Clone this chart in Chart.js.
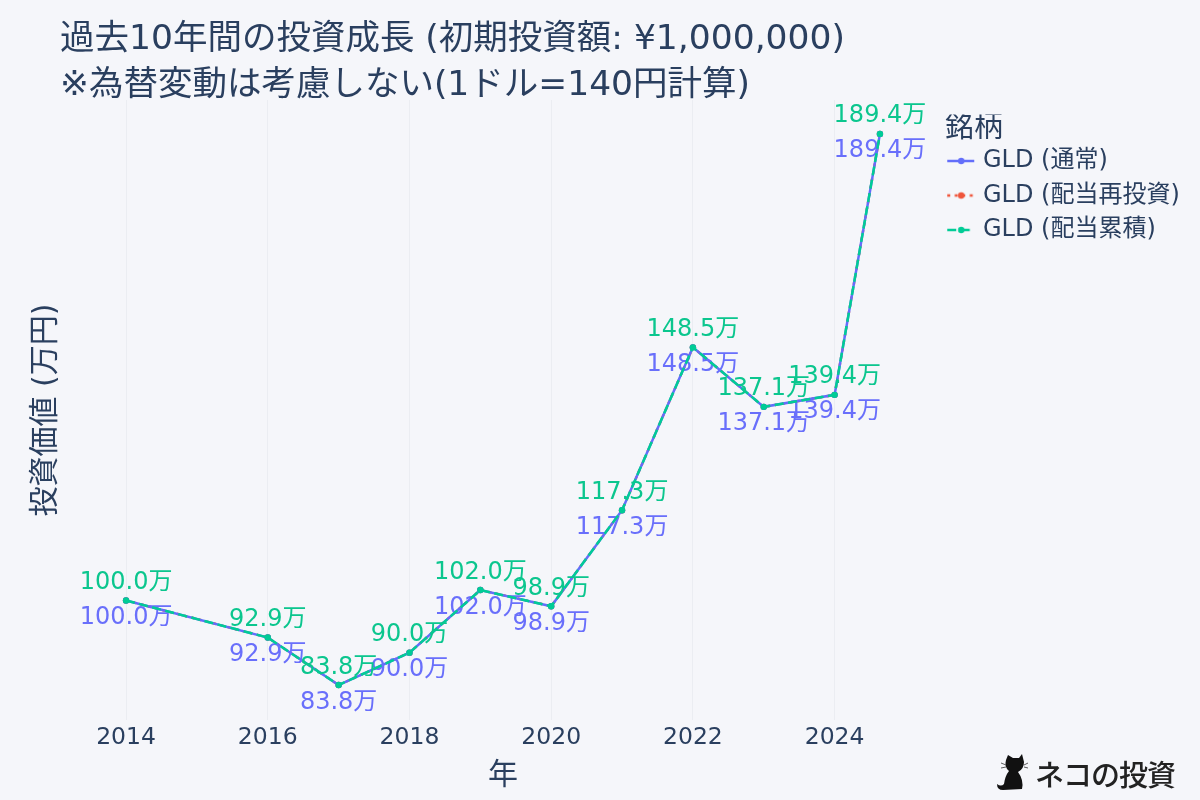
<!DOCTYPE html>
<html lang="ja"><head><meta charset="utf-8">
<style>html,body{margin:0;padding:0;background:#f5f6fa}#w{width:1200px;height:800px;position:relative}</style>
<script src="https://cdn.jsdelivr.net/npm/chart.js@4/dist/chart.umd.min.js"></script>
</head><body><div id="w"><canvas id="c" width="1200" height="800"></canvas></div>
<script>
const titleLines = ['過去10年間の投資成長 (初期投資額: ¥1,000,000)', '※為替変動は考慮しない(1ドル=140円計算)'];
const years = [2014, 2016, 2017, 2018, 2019, 2020, 2021, 2022, 2023, 2024, 2024.64];
const gldNormal = [100.0, 92.9, 83.8, 90.0, 102.0, 98.9, 117.3, 148.5, 137.1, 139.4, 189.4];
const gldReinvest = [100.0, 92.9, 83.8, 90.0, 102.0, 98.9, 117.3, 148.5, 137.1, 139.4, 189.4];
const gldAccum = [100.0, 92.9, 83.8, 90.0, 102.0, 98.9, 117.3, 148.5, 137.1, 139.4, 189.4];
const seriesNames = ['GLD (通常)', 'GLD (配当再投資)', 'GLD (配当累積)'];
const colors = ['#636efa', '#ef553b', '#00cc96'];
const dashes = [[], [3, 4.5], [9, 4.5]];
const drawOrder = [2, 3, 1];
const FONT = '"DejaVu Sans","Noto Sans CJK JP",sans-serif';
const INK = '#2a3f5f';
const toXY = v => v.map((y, i) => ({x: years[i], y}));

function legendGlyph(i) {
  const c = document.createElement('canvas');
  c.width = 40; c.height = 12;
  const g = c.getContext('2d');
  g.strokeStyle = colors[i]; g.fillStyle = colors[i]; g.lineWidth = 2.5;
  g.setLineDash(dashes[i]);
  g.beginPath(); g.moveTo(4, 6); g.lineTo(31, 6); g.stroke();
  g.beginPath(); g.arc(18, 6, 3.2, 0, 7); g.fill();
  return c;
}

const labelStyle = {0: [23.5, '#696ffb'], 2: [-11.5, '#0bc68e']};
const labelPlugin = {
  id: 'valueLabels',
  afterDatasetDraw(chart, args) {
    const st = labelStyle[args.index];
    if (!st) return;
    const ctx = chart.ctx;
    ctx.save();
    ctx.font = '24px ' + FONT;
    ctx.textAlign = 'center';
    ctx.textBaseline = 'alphabetic';
    ctx.fillStyle = st[1];
    const vals = chart.data.datasets[args.index].data;
    args.meta.data.forEach((p, i) => ctx.fillText(vals[i].y.toFixed(1) + '万', p.x, p.y + st[0]));
    ctx.restore();
  }
};

const layoutPlugin = {
  id: 'tweaks',
  afterLayout(chart) {
    const t = chart.titleBlock;
    t.left = 60; t.right = 1160; t.bottom += 9; t.top = 17;
    const l = chart.legend, w = l.width, h = l.height;
    l.left = 945; l.right = 945 + w; l.top = 114.5; l.bottom = 114.5 + h;
  },
  afterDraw(chart) {
    const ctx = chart.ctx;
    ctx.save();
    // watermark: cat silhouette and text
    ctx.fillStyle = '#111';
    ctx.beginPath();
    ctx.moveTo(1006, 760); ctx.lineTo(1008, 755); ctx.lineTo(1013, 758); ctx.lineTo(1019, 758);
    ctx.lineTo(1022, 754); ctx.lineTo(1024, 762); ctx.quadraticCurveTo(1024, 769, 1018, 772);
    ctx.quadraticCurveTo(1024, 780, 1022, 789); ctx.lineTo(1003, 790); ctx.quadraticCurveTo(997, 790, 997, 784);
    ctx.quadraticCurveTo(1001, 787, 1004, 784); ctx.quadraticCurveTo(1005, 776, 1009, 771);
    ctx.quadraticCurveTo(1004, 767, 1006, 760); ctx.closePath(); ctx.fill();
    ctx.strokeStyle = '#333'; ctx.lineWidth = 0.8;
    ctx.beginPath();
    ctx.moveTo(1006, 765); ctx.lineTo(1001, 763); ctx.moveTo(1006, 767); ctx.lineTo(1001, 768);
    ctx.moveTo(1024, 765); ctx.lineTo(1028, 763); ctx.moveTo(1024, 767); ctx.lineTo(1028, 768);
    ctx.stroke();
    ctx.font = '500 29px "Noto Sans CJK JP",sans-serif';
    ctx.textAlign = 'left'; ctx.textBaseline = 'alphabetic';
    ctx.fillStyle = '#222';
    ctx.letterSpacing = '-1px';
    ctx.fillText('ネコの投資', 1035, 786);
    ctx.restore();
  }
};

const chart = new Chart(document.getElementById('c'), {
  type: 'line',
  data: {
    datasets: [gldNormal, gldReinvest, gldAccum].map((v, i) => ({
      label: seriesNames[i], data: toXY(v), borderColor: colors[i], backgroundColor: colors[i],
      borderDash: dashes[i], borderWidth: 2.5, pointRadius: 3.2, pointBackgroundColor: colors[i],
      pointBorderWidth: 0, tension: 0, order: drawOrder[i]
    }))
  },
  plugins: [labelPlugin, layoutPlugin],
  options: {
    responsive: false, animation: false,
    layout: {padding: {left: 20, right: 24, top: 8, bottom: 0}},
    plugins: {
      tooltip: {enabled: false},
      title: {display: true, text: titleLines, align: 'start', color: INK,
        font: {family: FONT, size: 34.5, weight: 'normal', lineHeight: 1.333}, padding: {top: 0, bottom: 0}},
      legend: {
        position: 'right', align: 'start',
        title: {display: true, position: 'start', text: '銘柄', color: INK,
          font: {family: FONT, size: 29, lineHeight: 30 / 29}, padding: {top: 0, bottom: -6}},
        labels: {
          color: INK, font: {family: FONT, size: 24}, usePointStyle: true, pointStyleWidth: 15.5, boxHeight: 24, padding: 10.5,
          generateLabels(chart) {
            return chart.data.datasets.map((d, i) => ({text: d.label, datasetIndex: i, fontColor: INK,
              pointStyle: legendGlyph(i), hidden: false, lineWidth: 0}));
          }
        }
      }
    },
    scales: {
      x: {
        type: 'linear', min: 2013.35, max: 2025.29,
        title: {display: true, text: '年', color: INK, font: {family: FONT, size: 30}, padding: {top: 0, bottom: 6}},
        grid: {color: '#ebedf2', lineWidth: 1, drawTicks: false},
        border: {display: false},
        ticks: {stepSize: 2, includeBounds: false, color: INK, font: {family: FONT, size: 23.5}, padding: 4, maxRotation: 0,
          callback: v => String(v)},
        afterFit(s) { s.height = 80; }
      },
      y: {
        min: 77.1, max: 195.9,
        title: {display: true, text: '投資価値 (万円)', color: INK, font: {family: FONT, size: 30}, padding: {top: 8, bottom: 0}},
        grid: {display: false}, border: {display: false},
        ticks: {display: false},
        afterFit(s) { s.width = 60; }
      }
    }
  }
});
chart.options.layout.padding.right = 274 - chart.legend.width;
chart.update();
</script></body></html>
